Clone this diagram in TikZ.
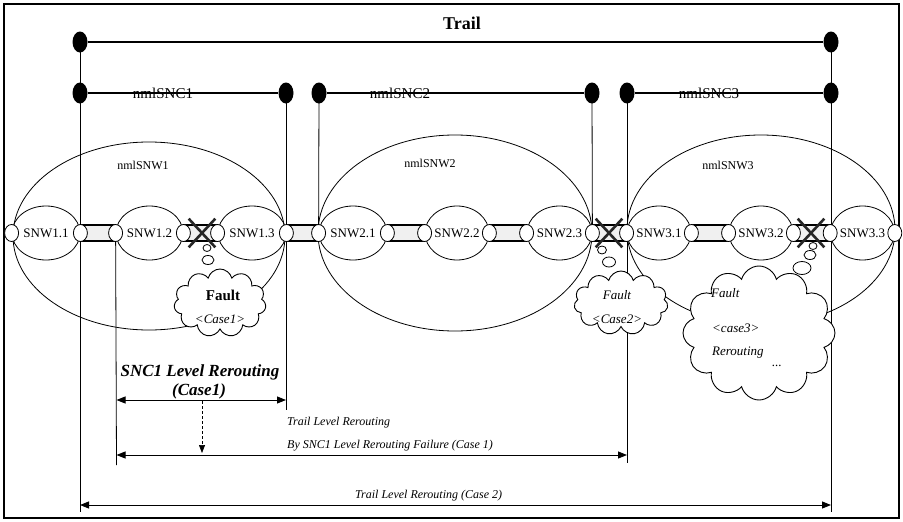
\documentclass[tikz,border=0pt]{standalone}
\usepackage{fontspec}
\setmainfont{Liberation Serif}
\usetikzlibrary{shapes.geometric,shapes.symbols,shapes.misc,arrows.meta,backgrounds}
\begin{document}
\begin{tikzpicture}[x=1pt,y=-1pt,
 dot/.style={ellipse, fill=black, minimum width=15pt, minimum height=21pt, inner sep=0pt},
 port/.style={ellipse, draw, line width=0.8pt, fill=white, minimum width=14pt, minimum height=17pt, inner sep=0pt},
 snw/.style={ellipse, draw, line width=0.8pt, minimum width=#1, minimum height=54pt, inner sep=0pt, font=\fontsize{13}{13}\selectfont},
 big/.style={ellipse, draw, line width=0.8pt, inner sep=0pt},
 pipe/.style={draw, line width=1.3pt, fill=gray!12},
 vline/.style={line width=0.8pt},
 lbl/.style={inner sep=0pt, font=\fontsize{12}{12}\selectfont},
 snclbl/.style={inner sep=0pt, font=\fontsize{15}{15}\selectfont},
 xmark/.style={cross out, draw=black!85, line width=2.6pt, minimum width=24pt, minimum height=26pt, inner sep=0pt},
 bub/.style={ellipse, draw, line width=0.8pt, fill=white, inner sep=0pt},
 cloudbox/.style={cloud, draw, line width=0.9pt, fill=white, cloud puffs=11, cloud ignores aspect, inner sep=0pt},
 ctext/.style={inner sep=0pt, font=\fontsize{13}{13}\selectfont\itshape},
 small/.style={inner sep=0pt, anchor=west, font=\fontsize{12}{12}\selectfont\itshape},
 arr/.style={line width=0.9pt, {Triangle[length=9pt,width=7pt]}-{Triangle[length=9pt,width=7pt]}}
]
\useasboundingbox (0,0) rectangle (903,522);
\draw[line width=1.2pt] (4,4) rectangle (899,518);

% big ellipses
\node[big, minimum width=272pt, minimum height=188pt] (W1) at (149,236) {};
\node[big, minimum width=274pt, minimum height=196pt] (W2) at (455,233) {};
\node[big, minimum width=268pt, minimum height=190pt] (W3) at (761,230) {};
\node[lbl] (W1l) at (143,165) {nmlSNW1};
\node[lbl] (W2l) at (430,163) {nmlSNW2};
\node[lbl] (W3l) at (728,165) {nmlSNW3};

% dots
\node[dot] (T1) at (80,42) {};
\node[dot] (T2) at (831,42) {};
\node[dot] (S1a) at (80,93) {};
\node[dot] (S1b) at (286,93) {};
\node[dot] (S2a) at (319,93) {};
\node[dot] (S2b) at (592,93) {};
\node[dot] (S3a) at (627,93) {};
\node[dot] (S3b) at (831,93) {};

\node[inner sep=0pt, font=\fontsize{18}{18}\selectfont\bfseries] (trail) at (462,23) {Trail};
\node[snclbl] (n1) at (163,93) {nmlSNC1};
\node[snclbl] (n2) at (400,93) {nmlSNC2};
\node[snclbl] (n3) at (709,93) {nmlSNC3};
\draw[line width=2.6pt] (T1) -- (T2);
\draw[line width=1.3pt] (S1a) -- (S1b);
\draw[line width=1.3pt] (S2a) -- (S2b);
\draw[line width=1.3pt] (S3a) -- (S3b);

% small SNW ellipses
\node[snw=68pt] (s11) at (46,233) {SNW1.1};
\node[snw=67pt] (s12) at (149.5,233) {SNW1.2};
\node[snw=68pt] (s13) at (252,233) {SNW1.3};
\node[snw=68pt] (s21) at (353,233) {SNW2.1};
\node[snw=64pt] (s22) at (457,233) {SNW2.2};
\node[snw=65pt] (s23) at (559.5,233) {SNW2.3};
\node[snw=64pt] (s31) at (659,233) {SNW3.1};
\node[snw=64pt] (s32) at (761,233) {SNW3.2};
\node[snw=63pt] (s33) at (862.5,233) {SNW3.3};
\foreach \s in {11,12,13,21,22,23,31,32,33}{
  \node[port] (p\s a) at (s\s.west) {};
  \node[port] (p\s b) at (s\s.east) {};
}

\coordinate (b1) at (80,512);
\coordinate (b2) at (116.5,465);
\coordinate (b3) at (286,410);
\coordinate (b4) at (627,463);
\coordinate (b5) at (831,512);

\begin{scope}[on background layer]
\draw[vline] (T1.center) -- (b1);
\draw[vline] (p12a.center) -- (b2);
\draw[vline] (S1b.center) -- (b3);
\draw[vline] (S2a.center) -- (p21a.center);
\draw[vline] (S2b.center) -- (p23b.center);
\draw[vline] (S3a.center) -- (b4);
\draw[vline] (T2.center) -- (b5);
\foreach \a/\b in {11b/12a,12b/13a,13b/21a,21b/22a,22b/23a,23b/31a,31b/32a,32b/33a}{
  \path[pipe] (p\a.center |- 0,225) rectangle (p\b.center |- 0,241);
}
\end{scope}

% faults
\node[xmark] (x1) at (202,233) {};
\node[xmark] (x2) at (609,233) {};
\node[xmark] (x3) at (811,233) {};
\node[bub, minimum width=8pt, minimum height=7pt] (u11) at (207,248) {};
\node[bub, minimum width=12pt, minimum height=9pt] (u12) at (208,260) {};
\node[bub, minimum width=9pt, minimum height=8pt] (u21) at (602,250) {};
\node[bub, minimum width=13pt, minimum height=10pt] (u22) at (609,262) {};
\node[bub, minimum width=8pt, minimum height=7pt] (u31) at (813,246) {};
\node[bub, minimum width=12pt, minimum height=9pt] (u32) at (810,255) {};
\node[bub, minimum width=18pt, minimum height=13pt] (u33) at (802,268) {};

\node[cloudbox, minimum width=92pt, minimum height=68pt] (c1) at (220,303) {};
\node[cloudbox, minimum width=94pt, minimum height=64pt] (c2) at (621,303) {};
\node[cloudbox, cloud puffs=12, minimum width=152pt, minimum height=134pt] (c3) at (759,333) {};

\node[inner sep=0pt, font=\fontsize{15}{15}\selectfont\bfseries] (f1) at (223,295) {Fault};
\node[ctext] (f1b) at (220,319) {<Case1>};
\node[ctext] (f2) at (617,295) {Fault};
\node[ctext] (f2b) at (617,319) {<Case2>};
\node[ctext, anchor=west] (f3) at (711,293) {Fault};
\node[ctext, anchor=west] (f3b) at (712,328) {<case3>};
\node[ctext, anchor=west] (f3c) at (712,353) {Rerouting};
\node[ctext, anchor=west] (f3d) at (772,366) {...};

% rerouting arrows
\coordinate (a1l) at (116.5,400);
\coordinate (a1r) at (286,400);
\coordinate (a2l) at (116.5,455);
\coordinate (a2r) at (627,455);
\coordinate (a3l) at (80,505);
\coordinate (a3r) at (831,505);
\coordinate (d1) at (202,401);
\coordinate (d2) at (202,453);
\draw[arr] (a1l) -- (a1r);
\draw[arr] (a2l) -- (a2r);
\draw[arr] (a3l) -- (a3r);
\draw[line width=0.7pt, densely dashed, -{Triangle[length=8pt,width=6pt]}] (d1) -- (d2);

\node[inner sep=0pt, font=\fontsize{17}{17}\selectfont\bfseries\itshape] (r1) at (200,372) {SNC1 Level Rerouting};
\node[inner sep=0pt, font=\fontsize{17}{17}\selectfont\bfseries\itshape] (r1b) at (199,391) {(Case1)};
\node[small] (r2) at (287,423) {Trail Level Rerouting};
\node[small] (r2b) at (287,446) {By SNC1 Level Rerouting Failure (Case 1)};
\node[small] (r3) at (355,496) {Trail Level Rerouting (Case 2)};
\end{tikzpicture}
\end{document}
